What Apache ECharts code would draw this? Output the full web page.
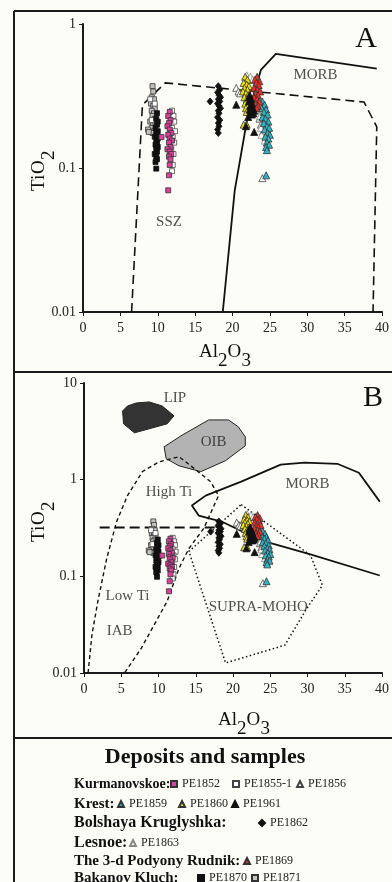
<!DOCTYPE html>
<html><head><meta charset="utf-8">
<script src="https://cdn.jsdelivr.net/npm/echarts@6/dist/echarts.min.js"></script>
<style>html,body{margin:0;padding:0;background:#fdfdf8;}#c{width:392px;height:882px;}</style>
</head><body><div id="c"></div>
<script>
const FONT = '"Liberation Serif","Times New Roman",serif';

// ---- sample data: [Al2O3, TiO2] ----
const PE1871 = [[9.3,0.37],[9.4,0.34],[9.2,0.31],[9.5,0.30],[9.1,0.28],[9.4,0.27],[9.6,0.26],[9.2,0.25],[9.5,0.24],[9.3,0.23],[9.6,0.22],[9.0,0.21],[9.4,0.205],[9.7,0.20],[9.2,0.19],[8.7,0.185],[9.5,0.18],[9.3,0.175],[8.8,0.178]];
const PE1855_1 = [[11.9,0.25],[12.1,0.23],[12.2,0.21],[11.9,0.19],[12.3,0.18],[12.0,0.165],[12.2,0.15],[11.8,0.135],[12.1,0.125],[12.0,0.105],[11.9,0.095],[9.0,0.30],[9.6,0.28],[9.2,0.215]];
const PE1870 = [[9.9,0.24],[9.8,0.22],[10.0,0.21],[9.9,0.20],[9.7,0.19],[10.0,0.18],[9.8,0.175],[9.9,0.17],[9.6,0.165],[10.0,0.16],[9.8,0.155],[9.9,0.15],[9.7,0.145],[10.0,0.14],[9.8,0.135],[9.9,0.13],[9.6,0.125],[9.8,0.12],[9.9,0.115],[9.7,0.11],[9.8,0.099]];
const PE1852 = [[11.6,0.245],[11.4,0.23],[11.7,0.215],[11.5,0.205],[11.3,0.195],[11.6,0.185],[11.8,0.175],[11.4,0.17],[11.6,0.16],[11.9,0.155],[11.5,0.15],[11.7,0.14],[11.3,0.135],[11.6,0.13],[11.8,0.125],[11.5,0.12],[11.7,0.115],[11.6,0.105],[11.5,0.089],[11.4,0.07],[10.5,0.164]];
const PE1862 = [[18.1,0.37],[18.3,0.35],[18.0,0.335],[18.2,0.32],[18.4,0.31],[18.1,0.30],[18.3,0.29],[18.0,0.28],[18.2,0.27],[18.4,0.26],[18.1,0.25],[18.2,0.24],[18.0,0.225],[18.3,0.215],[18.1,0.205],[18.2,0.195],[18.0,0.185],[18.1,0.175],[17.0,0.29]];
const PE1856 = [[20.5,0.36],[20.8,0.34],[21.0,0.33],[23.6,0.22],[23.8,0.20],[24.1,0.18],[24.0,0.085]];
const PE1863 = [[21.9,0.44],[22.4,0.43],[22.7,0.41],[23.9,0.25],[23.7,0.23],[24.2,0.21],[23.9,0.17],[24.3,0.155],[23.8,0.19]];
const PE1859 = [[24.0,0.29],[24.3,0.275],[23.9,0.26],[24.5,0.255],[24.2,0.245],[24.7,0.235],[24.0,0.225],[24.4,0.22],[24.8,0.21],[24.2,0.205],[24.6,0.195],[24.9,0.19],[24.3,0.185],[24.7,0.175],[25.0,0.17],[24.4,0.165],[24.8,0.16],[24.6,0.15],[24.9,0.145],[24.5,0.14],[24.6,0.133],[24.5,0.089]];
const PE1860 = [[21.7,0.43],[22.0,0.41],[21.5,0.39],[21.9,0.38],[22.2,0.37],[21.6,0.36],[22.0,0.35],[21.4,0.34],[21.8,0.33],[22.1,0.32],[21.6,0.31],[21.9,0.30],[22.2,0.29],[21.7,0.28],[22.0,0.27],[21.8,0.26],[22.1,0.25],[21.9,0.245],[21.5,0.20],[21.9,0.20]];
const PE1869 = [[23.3,0.43],[23.0,0.41],[23.6,0.40],[23.2,0.39],[23.5,0.375],[22.9,0.36],[23.3,0.35],[23.7,0.34],[23.1,0.33],[23.4,0.32],[22.9,0.31],[23.3,0.30],[23.6,0.29],[23.1,0.28],[23.4,0.27],[23.2,0.26]];
const PE1961 = [[20.5,0.275],[22.1,0.226],[22.9,0.178],[21.8,0.195],[22.3,0.32],[22.5,0.30],[22.2,0.29],[22.6,0.28],[22.4,0.27],[22.7,0.26],[22.3,0.255],[22.5,0.245],[22.8,0.24],[22.6,0.235],[22.4,0.25],[22.9,0.25],[22.2,0.31]];

// ---- field boundaries ----
const A_MORB = [[18.7,0.01],[20.3,0.07],[22.1,0.24],[23.8,0.48],[25.8,0.62],[39.3,0.49]];
const A_SSZ = [[6.5,0.01],[7.95,0.274],[11.0,0.39],[37.6,0.287],[39.3,0.193],[38.8,0.01]];
const B_LIP = [[5.18,5.14],[5.84,5.79],[7.04,6.22],[8.76,6.37],[10.49,5.79],[12.08,4.57],[11.16,3.78],[6.77,3.05],[5.31,3.78]];
const B_OIB = [[10.76,2.19],[11.02,1.65],[12.75,1.39],[15.67,1.21],[18.99,1.57],[21.65,2.24],[21.65,2.77],[20.72,3.52],[19.39,4.15],[16.73,4.15],[13.01,2.84]];
const B_IAB = [[0.55,0.01],[1.06,0.0247],[1.86,0.0552],[3.05,0.153],[4.38,0.369],[5.84,0.684],[7.84,1.21],[10.09,1.53],[12.75,1.73],[14.34,1.39],[17.0,0.953],[18.06,0.684],[16.07,0.313],[14.08,0.194],[12.75,0.121],[11.16,0.0552],[9.69,0.0344],[7.7,0.0181],[5.44,0.01]];
const B_TI = [[2.1,0.32],[17.8,0.32]];
const B_SUPRA = [[21.1,0.552],[30.4,0.165],[32.0,0.0807],[29.75,0.0446],[26.96,0.0194],[19.0,0.0127],[14.08,0.181],[21.1,0.552]];
const B_MORB = [[39.7,0.102],[30.4,0.169],[23.77,0.235],[18.46,0.369],[15.4,0.425],[14.48,0.54],[16.33,0.684],[21.1,0.953],[26.4,1.43],[29.6,1.5],[34.0,1.46],[36.9,1.18],[39.7,0.593]];

const A_LABELS = [[31.1,0.442,'MORB'],[11.5,0.0422,'SSZ']];
const B_LABELS = [[12.2,7.0,'LIP'],[17.4,2.46,'OIB'],[11.4,0.752,'High Ti'],[5.84,0.0622,'Low Ti'],[4.78,0.0271,'IAB'],[23.4,0.0479,'SUPRA-MOHO'],[30.0,0.91,'MORB']];

const X_MIN = 0, X_MAX = 40, X_STEP = 5;
const A_Y = [0.01, 1];
const B_Y = [0.01, 10];

// legend rows
const ROWS = [
  {label:'Kurmanovskoe:', items:['PE1852','PE1855-1','PE1856']},
  {label:'Krest:', items:['PE1859','PE1860','PE1961']},
  {label:'Bolshaya Kruglyshka:', items:['PE1862']},
  {label:'Lesnoe:', items:['PE1863']},
  {label:'The 3-d Podyony Rudnik:', items:['PE1869']},
  {label:'Bakanov Kluch:', items:['PE1870','PE1871']}
];

const samples = [
  {name:'PE1871', data:PE1871, symbol:'rect', size:5, color:'#c8c1c1', border:'#333'},
  {name:'PE1855-1', data:PE1855_1, symbol:'rect', size:5, color:'#ffffff', border:'#444'},
  {name:'PE1870', data:PE1870, symbol:'rect', size:5, color:'#111111', border:'#111'},
  {name:'PE1852', data:PE1852, symbol:'rect', size:5, color:'#dc3f9c', border:'#333'},
  {name:'PE1862', data:PE1862, symbol:'diamond', size:[6,7], color:'#111111', border:'#111'},
  {name:'PE1856', data:PE1856, symbol:'triangle', size:7, color:'#ffffff', border:'#444'},
  {name:'PE1863', data:PE1863, symbol:'triangle', size:7, color:'#ffffff', border:'#888'},
  {name:'PE1859', data:PE1859, symbol:'triangle', size:7, color:'#2fb4c6', border:'#333'},
  {name:'PE1860', data:PE1860, symbol:'triangle', size:7, color:'#f2e200', border:'#333'},
  {name:'PE1869', data:PE1869, symbol:'triangle', size:7, color:'#e8302a', border:'#333'},
  {name:'PE1961', data:PE1961, symbol:'triangle', size:7, color:'#111111', border:'#111'}
];

function xAxis(gi){
  return {type:'value', gridIndex:gi, min:X_MIN, max:X_MAX, interval:X_STEP,
    axisLine:{onZero:false, lineStyle:{color:'#1a1a1a', width:2}},
    axisTick:{length:4, lineStyle:{color:'#1a1a1a', width:1}},
    splitLine:{show:false},
    axisLabel:{fontFamily:FONT, fontSize:14, color:'#222', margin:9}};
}
function yAxis(gi, r){
  return {type:'log', logBase:10, gridIndex:gi, min:r[0], max:r[1],
    axisLine:{show:true, onZero:false, lineStyle:{color:'#1a1a1a', width:2}},
    axisTick:{show:true, length:4, lineStyle:{color:'#1a1a1a', width:1}},
    minorTick:{show:false}, splitLine:{show:false},
    axisLabel:{fontFamily:FONT, fontSize:14, color:'#222', margin:7,
      formatter:v => String(+Number(v).toPrecision(3))}};
}
function lineSeries(gi, data, type, width){
  return {type:'line', xAxisIndex:gi, yAxisIndex:gi, data:data, showSymbol:false, symbol:'none',
    silent:true, z:2, lineStyle:{color:'#111', width:width||1.5, type:type||'solid'}};
}
function polySeries(gi, pts, fill){
  return {type:'custom', xAxisIndex:gi, yAxisIndex:gi, data:pts, silent:true, z:1,
    renderItem:(params, api) => {
      if (params.dataIndex !== 0) return null;
      const p = pts.map(d => api.coord(d));
      return {type:'polygon', shape:{points:p}, style:{fill:fill, stroke:'#222', lineWidth:1}};
    }};
}
function labelSeries(gi, data){
  return {type:'scatter', xAxisIndex:gi, yAxisIndex:gi, data:data, symbolSize:0.01, silent:true, z:3,
    label:{show:true, position:'inside', formatter:p => p.data[2], fontFamily:FONT, fontSize:15, color:'#222'}};
}

const series = [];
[0,1].forEach(gi => {
  if (gi === 0) {
    series.push(lineSeries(0, A_MORB, 'solid', 1.8));
    series.push(lineSeries(0, A_SSZ, [9,5], 1.6));
    series.push(labelSeries(0, A_LABELS));
  } else {
    series.push(polySeries(1, B_LIP, '#333333'));
    series.push(polySeries(1, B_OIB, '#b3b3b3'));
    series.push(lineSeries(1, B_IAB, [4,3], 1.4));
    series.push(lineSeries(1, B_TI, [10,5], 1.8));
    series.push(lineSeries(1, B_SUPRA, [1.5,2.5], 1.5));
    series.push(lineSeries(1, B_MORB, 'solid', 1.8));
    series.push(labelSeries(1, B_LABELS));
  }
  samples.forEach(s => {
    series.push({type:'scatter', name:s.name, xAxisIndex:gi, yAxisIndex:gi, data:s.data,
      symbol:s.symbol, symbolSize:s.size, z:5,
      itemStyle:{color:s.color, borderColor:s.border, borderWidth:0.8, opacity:1}});
  });
});

// legend layout (left edge of each legend entry's icon, row centre y)
const ROW_Y = [784, 804, 823, 843, 861, 878];
const ROW_FONT = [14, 15, 16, 16, 15, 15];
const ICON_X = {'PE1852':170,'PE1855-1':232,'PE1856':296,'PE1859':117,'PE1860':178,'PE1961':231,
  'PE1862':258,'PE1863':129,'PE1869':243,'PE1870':197,'PE1871':251};
const legends = [];
const graphics = [];
ROWS.forEach((r, i) => {
  graphics.push({type:'text', x:74, y:ROW_Y[i], style:{text:r.label, font:'bold ' + ROW_FONT[i] + 'px ' + FONT, fill:'#111', verticalAlign:'middle'}});
  r.items.forEach(n => {
    legends.push({data:[n], left:ICON_X[n], top:ROW_Y[i]-7, padding:0, itemWidth:6, itemHeight:6,
      selectedMode:false, textStyle:{fontFamily:FONT, fontSize:12, color:'#222', lineHeight:14}});
  });
});

// frame
const LW = 2, FC = '#1b1b1b';
graphics.push({type:'line', shape:{x1:14, y1:11, x2:14, y2:882}, style:{stroke:FC, lineWidth:LW}});
graphics.push({type:'line', shape:{x1:14, y1:11, x2:392, y2:11}, style:{stroke:FC, lineWidth:LW}});
graphics.push({type:'line', shape:{x1:14, y1:372, x2:392, y2:372}, style:{stroke:FC, lineWidth:LW}});
graphics.push({type:'line', shape:{x1:14, y1:738, x2:392, y2:738}, style:{stroke:FC, lineWidth:LW}});
// panel letters
graphics.push({type:'text', x:366, y:39, style:{text:'A', font:'30px ' + FONT, fill:'#111', align:'center', verticalAlign:'middle'}});
graphics.push({type:'text', x:373, y:398, style:{text:'B', font:'30px ' + FONT, fill:'#111', align:'center', verticalAlign:'middle'}});
// legend title
graphics.push({type:'text', x:205, y:757, style:{text:'Deposits and samples', font:'bold 22px ' + FONT, fill:'#111', align:'center', verticalAlign:'middle'}});

// axis titles with subscripts
function al2o3(x, y){
  const f = '19px ' + FONT;
  return {type:'group', x:x, y:y, children:[
    {type:'text', x:0, y:0, style:{text:'Al', font:f, fill:'#111', verticalAlign:'middle'}},
    {type:'text', x:19, y:9, style:{text:'2', font:f, fill:'#111', verticalAlign:'middle'}},
    {type:'text', x:28.5, y:0, style:{text:'O', font:f, fill:'#111', verticalAlign:'middle'}},
    {type:'text', x:42.5, y:9, style:{text:'3', font:f, fill:'#111', verticalAlign:'middle'}}
  ]};
}
function tio2(x, y){
  const f = '19px ' + FONT;
  return {type:'group', x:x, y:y, rotation:Math.PI/2, children:[
    {type:'text', x:0, y:0, style:{text:'Ti', font:f, fill:'#111', verticalAlign:'middle'}},
    {type:'text', x:17, y:0, style:{text:'O', font:f, fill:'#111', verticalAlign:'middle'}},
    {type:'text', x:31, y:10, style:{text:'2', font:f, fill:'#111', verticalAlign:'middle'}}
  ]};
}
graphics.push(al2o3(199, 352));
graphics.push(al2o3(218, 720));
graphics.push(tio2(39, 191));
graphics.push(tio2(39, 542));

const chart = echarts.init(document.getElementById('c'), null, {renderer:'canvas'});
chart.setOption({
  backgroundColor:'#fdfdf8',
  animation:false,
  grid:[{left:83, top:24, width:301, height:288}, {left:84, top:383, width:301, height:290}],
  xAxis:[xAxis(0), xAxis(1)],
  yAxis:[yAxis(0, A_Y), yAxis(1, B_Y)],
  legend:legends,
  graphic:graphics,
  series:series
});
</script></body></html>
